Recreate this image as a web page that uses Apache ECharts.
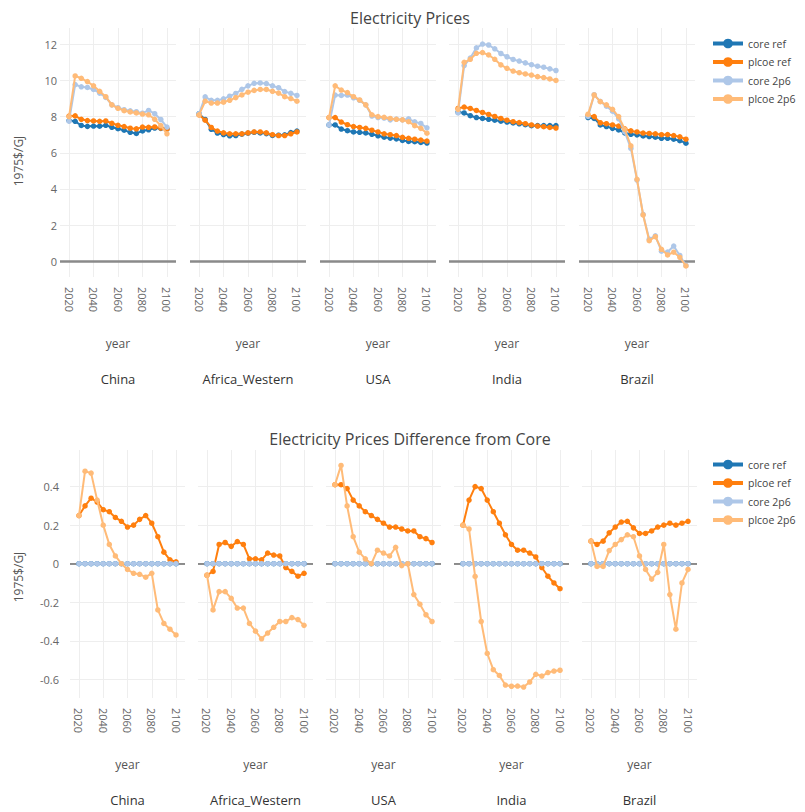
<!DOCTYPE html>
<html><head><meta charset="utf-8">
<script src="https://cdn.jsdelivr.net/npm/echarts@6/dist/echarts.min.js"></script>
<style>html,body{margin:0;padding:0;background:#fff}#chart{width:805px;height:812px}</style>
</head><body><div id="chart"></div>
<script>
// ---------- data ----------
const years = [2020,2025,2030,2035,2040,2045,2050,2055,2060,2065,2070,2075,2080,2085,2090,2095,2100];
const regions = ['China','Africa_Western','USA','India','Brazil'];
const seriesNames = ['core ref','plcoe ref','core 2p6','plcoe 2p6'];
const xTicks = [2020,2040,2060,2080,2100];
const yTicksTop = [0,2,4,6,8,10,12];
const yTicksBottom = [-0.6,-0.4,-0.2,0,0.2,0.4];

// Electricity Prices (1975$/GJ)
const china_core_ref   = [7.78,7.74,7.51,7.46,7.48,7.47,7.52,7.41,7.33,7.25,7.13,7.07,7.21,7.27,7.37,7.35,7.31];
const china_plcoe_ref  = [8.03,8.04,7.85,7.78,7.76,7.74,7.76,7.63,7.52,7.45,7.36,7.32,7.42,7.41,7.43,7.37,7.32];
const china_core_2p6   = [7.75,9.77,9.65,9.61,9.50,9.30,9.06,8.65,8.49,8.38,8.32,8.27,8.19,8.34,8.16,7.84,7.42];
const china_plcoe_2p6  = [8.00,10.25,10.12,9.94,9.70,9.40,9.10,8.65,8.46,8.33,8.26,8.20,8.14,8.10,7.85,7.50,7.05];

const africa_core_ref  = [8.16,7.84,7.30,7.09,7.01,6.94,6.95,7.03,7.08,7.13,7.10,7.06,6.96,6.97,6.99,7.12,7.20];
const africa_plcoe_ref = [8.10,7.80,7.40,7.20,7.10,7.05,7.05,7.05,7.10,7.15,7.15,7.10,7.00,6.95,6.95,7.05,7.15];
const africa_core_2p6  = [8.16,9.09,8.90,8.90,8.98,9.13,9.28,9.51,9.70,9.84,9.86,9.83,9.70,9.60,9.38,9.29,9.17];
const africa_plcoe_2p6 = [8.10,8.85,8.75,8.75,8.80,8.90,9.05,9.20,9.35,9.45,9.50,9.50,9.40,9.30,9.10,9.00,8.85];

const usa_core_ref     = [7.54,7.54,7.31,7.22,7.15,7.13,7.10,7.02,6.94,6.86,6.81,6.77,6.68,6.63,6.61,6.57,6.54];
const usa_plcoe_ref    = [7.95,7.95,7.70,7.55,7.45,7.40,7.35,7.25,7.15,7.05,7.00,6.95,6.85,6.80,6.75,6.70,6.65];
const usa_core_2p6     = [7.54,9.19,9.17,9.19,9.04,8.90,8.65,8.03,7.95,7.92,7.82,7.86,7.82,7.88,7.71,7.62,7.38];
const usa_plcoe_2p6    = [7.95,9.70,9.47,9.33,9.10,8.92,8.65,8.10,8.00,7.96,7.90,7.85,7.82,7.72,7.50,7.35,7.08];

const india_core_ref   = [8.25,8.20,8.05,7.95,7.90,7.85,7.80,7.75,7.70,7.65,7.60,7.55,7.50,7.50,7.50,7.50,7.50];
const india_plcoe_ref  = [8.45,8.53,8.45,8.34,8.23,8.12,8.01,7.90,7.80,7.72,7.67,7.61,7.54,7.48,7.44,7.40,7.37];
const india_core_2p6   = [8.20,10.82,11.24,11.80,12.01,11.96,11.75,11.49,11.31,11.16,11.07,10.97,10.87,10.79,10.73,10.64,10.55];
const india_plcoe_2p6  = [8.40,11.00,11.17,11.50,11.54,11.41,11.17,10.86,10.67,10.52,10.43,10.36,10.30,10.21,10.16,10.08,10.00];

const brazil_core_ref  = [7.95,7.90,7.54,7.45,7.35,7.26,7.10,7.02,6.99,6.93,6.90,6.86,6.80,6.80,6.75,6.67,6.53];
const brazil_plcoe_ref = [8.07,8.00,7.66,7.61,7.54,7.48,7.32,7.21,7.15,7.09,7.07,7.05,7.00,7.01,6.95,6.88,6.75];
const brazil_core_2p6  = [8.01,9.21,8.84,8.58,8.30,7.88,7.15,6.24,4.49,2.59,1.22,1.41,0.56,0.51,0.84,0.32,-0.23];
const brazil_plcoe_2p6 = [8.13,9.20,8.83,8.65,8.40,8.00,7.30,6.38,4.53,2.56,1.14,1.36,0.66,0.35,0.50,0.22,-0.26];

// Electricity Prices Difference from Core (1975$/GJ)
const china_d_core_ref   = [0,0,0,0,0,0,0,0,0,0,0,0,0,0,0,0,0];
const china_d_plcoe_ref  = [0.25,0.30,0.34,0.32,0.28,0.27,0.24,0.22,0.19,0.20,0.23,0.25,0.21,0.14,0.06,0.02,0.01];
const china_d_core_2p6   = [0,0,0,0,0,0,0,0,0,0,0,0,0,0,0,0,0];
const china_d_plcoe_2p6  = [0.25,0.48,0.47,0.33,0.20,0.10,0.04,0.00,-0.03,-0.05,-0.055,-0.07,-0.05,-0.24,-0.31,-0.34,-0.37];

const africa_d_core_ref  = [0,0,0,0,0,0,0,0,0,0,0,0,0,0,0,0,0];
const africa_d_plcoe_ref = [-0.06,-0.04,0.10,0.11,0.09,0.115,0.10,0.025,0.025,0.02,0.055,0.045,0.04,-0.02,-0.04,-0.065,-0.05];
const africa_d_core_2p6  = [0,0,0,0,0,0,0,0,0,0,0,0,0,0,0,0,0];
const africa_d_plcoe_2p6 = [-0.06,-0.24,-0.145,-0.145,-0.18,-0.23,-0.23,-0.31,-0.35,-0.39,-0.36,-0.33,-0.30,-0.30,-0.28,-0.29,-0.32];

const usa_d_core_ref     = [0,0,0,0,0,0,0,0,0,0,0,0,0,0,0,0,0];
const usa_d_plcoe_ref    = [0.41,0.41,0.39,0.33,0.30,0.27,0.25,0.23,0.21,0.19,0.19,0.18,0.17,0.17,0.14,0.13,0.11];
const usa_d_core_2p6     = [0,0,0,0,0,0,0,0,0,0,0,0,0,0,0,0,0];
const usa_d_plcoe_2p6    = [0.41,0.51,0.30,0.14,0.06,0.025,0.00,0.07,0.055,0.04,0.085,-0.01,0.00,-0.16,-0.21,-0.265,-0.30];

const india_d_core_ref   = [0,0,0,0,0,0,0,0,0,0,0,0,0,0,0,0,0];
const india_d_plcoe_ref  = [0.20,0.33,0.40,0.39,0.33,0.27,0.21,0.15,0.10,0.07,0.07,0.055,0.035,-0.02,-0.065,-0.10,-0.13];
const india_d_core_2p6   = [0,0,0,0,0,0,0,0,0,0,0,0,0,0,0,0,0];
const india_d_plcoe_2p6  = [0.20,0.18,-0.066,-0.30,-0.466,-0.55,-0.58,-0.63,-0.636,-0.635,-0.64,-0.614,-0.574,-0.583,-0.565,-0.557,-0.553];

const brazil_d_core_ref  = [0,0,0,0,0,0,0,0,0,0,0,0,0,0,0,0,0];
const brazil_d_plcoe_ref = [0.117,0.10,0.117,0.16,0.19,0.216,0.22,0.186,0.157,0.157,0.17,0.19,0.20,0.21,0.20,0.21,0.22];
const brazil_d_core_2p6  = [0,0,0,0,0,0,0,0,0,0,0,0,0,0,0,0,0];
const brazil_d_plcoe_2p6 = [0.117,-0.014,-0.014,0.068,0.10,0.125,0.15,0.14,0.04,-0.03,-0.08,-0.045,0.10,-0.16,-0.34,-0.10,-0.03];

// ---------- build ----------
const topData = [
  [china_core_ref, china_plcoe_ref, china_core_2p6, china_plcoe_2p6],
  [africa_core_ref, africa_plcoe_ref, africa_core_2p6, africa_plcoe_2p6],
  [usa_core_ref, usa_plcoe_ref, usa_core_2p6, usa_plcoe_2p6],
  [india_core_ref, india_plcoe_ref, india_core_2p6, india_plcoe_2p6],
  [brazil_core_ref, brazil_plcoe_ref, brazil_core_2p6, brazil_plcoe_2p6]
];
const bottomData = [
  [china_d_core_ref, china_d_plcoe_ref, china_d_core_2p6, china_d_plcoe_2p6],
  [africa_d_core_ref, africa_d_plcoe_ref, africa_d_core_2p6, africa_d_plcoe_2p6],
  [usa_d_core_ref, usa_d_plcoe_ref, usa_d_core_2p6, usa_d_plcoe_2p6],
  [india_d_core_ref, india_d_plcoe_ref, india_d_core_2p6, india_d_plcoe_2p6],
  [brazil_d_core_ref, brazil_d_plcoe_ref, brazil_d_core_2p6, brazil_d_plcoe_2p6]
];

const colors = ['#1f77b4','#ff7f0e','#aec7e8','#ffbb78'];
const FONT = '"Open Sans", "Noto Sans", sans-serif';
const topLefts = [60,190,320,449,579], topW = 116, topTop = 28, topH = 249;
const botLefts = [70,198,326,454,582], botW = 115, botTop = 450, botH = 248;
const xMin = 2012.6, xMax = 2107.4;
const xInt = xTicks[1] - xTicks[0];
const yIntTop = yTicksTop[1] - yTicksTop[0];
const yIntBot = Math.round((yTicksBottom[1] - yTicksBottom[0]) * 1000) / 1000;

const grids = [], xAxes = [], yAxes = [], series = [], graphics = [];

function addPanel(row, r) {
  const idx = row * 5 + r;
  const isTop = row === 0;
  grids.push({
    left: (isTop ? topLefts : botLefts)[r],
    top: isTop ? topTop : botTop,
    width: isTop ? topW : botW,
    height: isTop ? topH : botH,
    containLabel: false
  });
  xAxes.push({
    type: 'value', gridIndex: idx, min: xMin, max: xMax,
    minInterval: xInt, maxInterval: xInt,
    name: 'year', nameLocation: 'middle', nameGap: 60,
    nameTextStyle: {color: '#555', fontSize: 12, fontFamily: FONT},
    axisLine: {show: false}, axisTick: {show: false},
    axisLabel: {rotate: -90, margin: 10, color: '#666', fontSize: 11, fontFamily: FONT,
      showMinLabel: false, showMaxLabel: false, formatter: v => String(Math.round(v))},
    splitLine: {show: true, showMinLine: false, showMaxLine: false, lineStyle: {color: '#eeeeee', width: 1}}
  });
  yAxes.push({
    type: 'value', gridIndex: idx,
    min: isTop ? -0.87 : -0.697, max: isTop ? 12.9 : 0.59,
    minInterval: isTop ? yIntTop : yIntBot, maxInterval: isTop ? yIntTop : yIntBot,
    axisLine: {show: false}, axisTick: {show: false},
    axisLabel: {show: r === 0, margin: isTop ? 3 : 11, color: '#666', fontSize: 11, fontFamily: FONT,
      showMinLabel: false, showMaxLabel: false},
    splitLine: {show: true, showMinLine: false, showMaxLine: false, lineStyle: {color: '#eeeeee', width: 1}}
  });
  const arrs = (isTop ? topData : bottomData)[r];
  for (let s = 0; s < 4; s++) {
    const ser = {
      type: 'line', name: seriesNames[s], xAxisIndex: idx, yAxisIndex: idx,
      data: years.map((y, i) => [y, arrs[s][i]]),
      symbol: 'circle', symbolSize: 5.5, showSymbol: true, showAllSymbol: true,
      color: colors[s],
      lineStyle: {width: 2, color: colors[s]},
      itemStyle: {color: colors[s], borderWidth: 0},
      z: 2 + s, silent: true, animation: false,
      emphasis: {disabled: true}
    };
    if (s === 0) {
      ser.markLine = {
        silent: true, symbol: 'none', z: 1, animation: false,
        label: {show: false},
        lineStyle: {color: isTop ? '#8a8a8a' : '#6a6a6a', width: isTop ? 2.5 : 1.6, type: 'solid'},
        emphasis: {disabled: true},
        data: [{yAxis: 0}]
      };
    }
    series.push(ser);
  }
  const left = (isTop ? topLefts : botLefts)[r], w = isTop ? topW : botW;
  graphics.push({
    type: 'text', x: left + w / 2, y: isTop ? 379 : 800, silent: true,
    style: {text: regions[r], align: 'center', verticalAlign: 'middle',
      fill: '#333', fontSize: 13, fontFamily: FONT}
  });
}
for (let row = 0; row < 2; row++) for (let r = 0; r < 5; r++) addPanel(row, r);

graphics.push({type: 'text', x: 410, y: 18, silent: true,
  style: {text: 'Electricity Prices', align: 'center', verticalAlign: 'middle', fill: '#444', fontSize: 16, fontFamily: FONT}});
graphics.push({type: 'text', x: 410, y: 439, silent: true,
  style: {text: 'Electricity Prices Difference from Core', align: 'center', verticalAlign: 'middle', fill: '#444', fontSize: 16, fontFamily: FONT}});
// y-axis titles
graphics.push({type: 'text', x: 18, y: 161, rotation: Math.PI / 2, silent: true,
  style: {text: '1975$/GJ', align: 'center', verticalAlign: 'middle', fill: '#555', fontSize: 12, fontFamily: FONT}});
graphics.push({type: 'text', x: 18, y: 577, rotation: Math.PI / 2, silent: true,
  style: {text: '1975$/GJ', align: 'center', verticalAlign: 'middle', fill: '#555', fontSize: 12, fontFamily: FONT}});

function makeLegend(top) {
  return {
    orient: 'vertical', left: 711, top: top, itemWidth: 30, itemHeight: 12, itemGap: 7.5,
    padding: 0,
    data: seriesNames,
    lineStyle: {width: 4},
    textStyle: {color: '#444', fontSize: 10.5, fontFamily: FONT},
    selectedMode: false
  };
}

const chart = echarts.init(document.getElementById('chart'), null, {renderer: 'svg'});
chart.setOption({
  backgroundColor: '#ffffff',
  animation: false,
  textStyle: {fontFamily: FONT},
  grid: grids, xAxis: xAxes, yAxis: yAxes, series: series,
  legend: [makeLegend(38), makeLegend(459)],
  graphic: graphics
});
</script>
</body></html>
